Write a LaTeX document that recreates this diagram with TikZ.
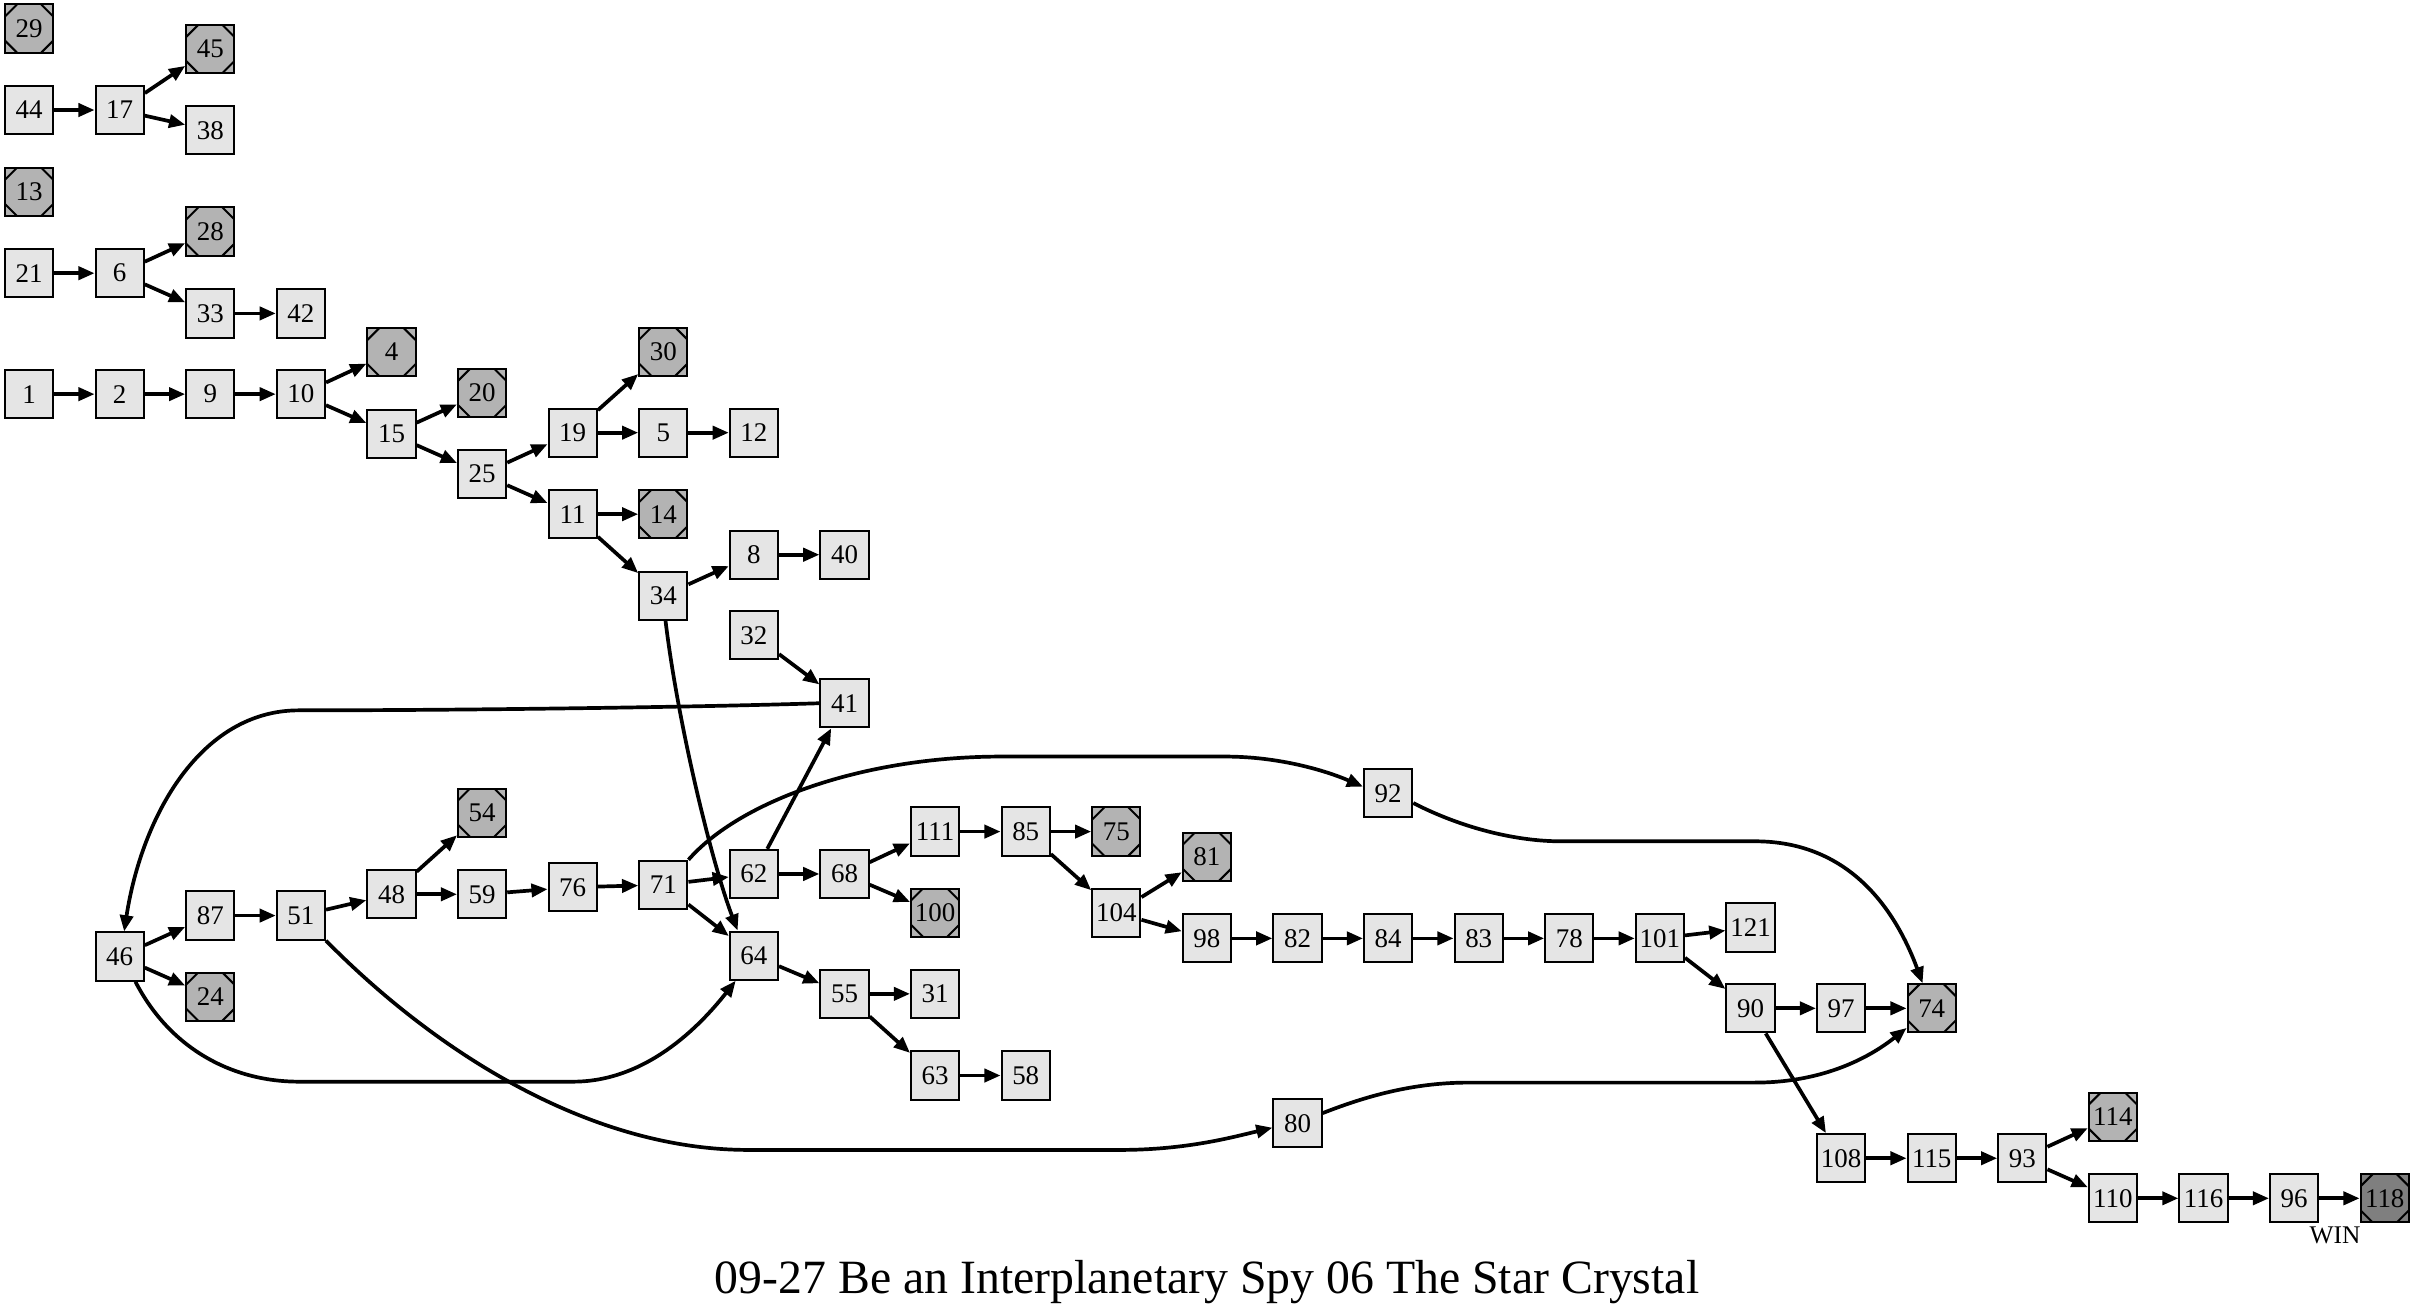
\documentclass[tikz,border=0pt]{standalone}
\usepackage{fontspec}
\setmainfont{Liberation Serif}
\usetikzlibrary{arrows.meta}
\definecolor{lgray}{HTML}{E5E5E5}
\definecolor{ogray}{HTML}{B3B3B3}
\definecolor{dgray}{HTML}{7F7F7F}
\tikzset{
  lbox/.style={draw=black, line width=1.3pt, fill=lgray, minimum size=31.3pt, inner sep=0pt,
    font=\fontsize{17.5}{17.5}\selectfont},
  obox/.style={lbox, fill=ogray, path picture={
    \draw[line width=1.3pt]
      ([xshift=7.8pt]path picture bounding box.north west) -- ([yshift=-7.8pt]path picture bounding box.north west)
      ([xshift=-7.8pt]path picture bounding box.north east) -- ([yshift=-7.8pt]path picture bounding box.north east)
      ([xshift=7.8pt]path picture bounding box.south west) -- ([yshift=7.8pt]path picture bounding box.south west)
      ([xshift=-7.8pt]path picture bounding box.south east) -- ([yshift=7.8pt]path picture bounding box.south east);}},
  wbox/.style={obox, fill=dgray},
  conn/.style={line width=2.4pt, -{Triangle[length=10.5pt,width=8.5pt]}},
}
\begin{document}
\begin{tikzpicture}[x=1pt,y=-1pt]
\useasboundingbox (0,0) rectangle (1568,852.2);
% column 0
\node[obox] (n29) at (18.9,18.5) {29};
\node[lbox] (n44) at (18.9,71.4) {44};
\node[obox] (n13) at (18.9,124.5) {13};
\node[lbox] (n21) at (18.9,177.3) {21};
\node[lbox] (n1) at (18.9,255.8) {1};
% column 1
\node[lbox] (n17) at (77.7,71.4) {17};
\node[lbox] (n6) at (77.7,177.3) {6};
\node[lbox] (n2) at (77.7,255.8) {2};
\node[lbox] (n46) at (77.7,620.8) {46};
% column 2
\node[obox] (n45) at (136.5,31.8) {45};
\node[lbox] (n38) at (136.5,84.6) {38};
\node[obox] (n28) at (136.5,150.3) {28};
\node[lbox] (n33) at (136.5,203.4) {33};
\node[lbox] (n9) at (136.5,255.8) {9};
\node[lbox] (n87) at (136.5,594.2) {87};
\node[obox] (n24) at (136.5,646.8) {24};
% column 3
\node[lbox] (n42) at (195.3,203.4) {42};
\node[lbox] (n10) at (195.3,255.8) {10};
\node[lbox] (n51) at (195.3,594.2) {51};
% column 4
\node[obox] (n4) at (254.1,228.5) {4};
\node[lbox] (n15) at (254.1,281.7) {15};
\node[lbox] (n48) at (254.1,580.4) {48};
% column 5
\node[obox] (n20) at (312.9,255.0) {20};
\node[lbox] (n25) at (312.9,307.7) {25};
\node[obox] (n54) at (312.9,527.4) {54};
\node[lbox] (n59) at (312.9,580.4) {59};
% column 6
\node[lbox] (n19) at (371.7,280.8) {19};
\node[lbox] (n11) at (371.7,333.7) {11};
\node[lbox] (n76) at (371.7,575.8) {76};
% column 7
\node[obox] (n30) at (430.5,228.2) {30};
\node[lbox] (n5) at (430.5,280.8) {5};
\node[obox] (n14) at (430.5,333.7) {14};
\node[lbox] (n34) at (430.5,386.6) {34};
\node[lbox] (n71) at (430.5,574.3) {71};
% column 8
\node[lbox] (n12) at (489.3,280.8) {12};
\node[lbox] (n8) at (489.3,360.0) {8};
\node[lbox] (n32) at (489.3,412.3) {32};
\node[lbox] (n62) at (489.3,567.2) {62};
\node[lbox] (n64) at (489.3,620.2) {64};
% column 9
\node[lbox] (n40) at (548.1,360.0) {40};
\node[lbox] (n41) at (548.1,456.4) {41};
\node[lbox] (n68) at (548.1,567.2) {68};
\node[lbox] (n55) at (548.1,645.0) {55};
% column 10
\node[lbox] (n111) at (606.9,539.7) {111};
\node[obox] (n100) at (606.9,592.3) {100};
\node[lbox] (n31) at (606.9,645.0) {31};
\node[lbox] (n63) at (606.9,698.0) {63};
% column 11
\node[lbox] (n85) at (665.7,539.7) {85};
\node[lbox] (n58) at (665.7,698.0) {58};
% column 12
\node[obox] (n75) at (724.5,539.7) {75};
\node[lbox] (n104) at (724.5,592.3) {104};
% column 13
\node[obox] (n81) at (783.3,556.0) {81};
\node[lbox] (n98) at (783.3,609.0) {98};
% column 14
\node[lbox] (n82) at (842.1,609.0) {82};
\node[lbox] (n80) at (842.1,729.0) {80};
% column 15
\node[lbox] (n92) at (900.9,514.9) {92};
\node[lbox] (n84) at (900.9,609.0) {84};
% columns 16-18
\node[lbox] (n83) at (959.7,609.0) {83};
\node[lbox] (n78) at (1018.5,609.0) {78};
\node[lbox] (n101) at (1077.3,609.0) {101};
% column 19
\node[lbox] (n121) at (1136.1,602.0) {121};
\node[lbox] (n90) at (1136.1,654.4) {90};
% column 20
\node[lbox] (n97) at (1194.9,654.4) {97};
\node[lbox] (n108) at (1194.9,751.7) {108};
% column 21
\node[obox] (n74) at (1253.7,654.4) {74};
\node[lbox] (n115) at (1253.7,751.7) {115};
% column 22
\node[lbox] (n93) at (1312.5,751.7) {93};
% column 23
\node[obox] (n114) at (1371.3,724.7) {114};
\node[lbox] (n110) at (1371.3,777.7) {110};
% columns 24-26
\node[lbox] (n116) at (1430.1,777.7) {116};
\node[lbox] (n96) at (1488.9,777.7) {96};
\node[wbox] (n118) at (1547.7,777.7) {118};
% labels
\node[font=\fontsize{16.5}{16.5}\selectfont, inner sep=0pt] (win) at (1515.4,801.5) {WIN};
\node[font=\fontsize{31}{31}\selectfont, inner sep=0pt, anchor=base] (title) at (783.4,839.3) {09-27 Be an Interplanetary Spy 06 The Star Crystal};
% straight edges
\draw[conn] (n44) -- (n17);
\draw[conn] (n17) -- (n45);
\draw[conn] (n17) -- (n38);
\draw[conn] (n21) -- (n6);
\draw[conn] (n6) -- (n28);
\draw[conn] (n6) -- (n33);
\draw[conn] (n33) -- (n42);
\draw[conn] (n1) -- (n2);
\draw[conn] (n2) -- (n9);
\draw[conn] (n9) -- (n10);
\draw[conn] (n10) -- (n4);
\draw[conn] (n10) -- (n15);
\draw[conn] (n15) -- (n20);
\draw[conn] (n15) -- (n25);
\draw[conn] (n25) -- (n19);
\draw[conn] (n25) -- (n11);
\draw[conn] (n19) -- (n30);
\draw[conn] (n19) -- (n5);
\draw[conn] (n5) -- (n12);
\draw[conn] (n11) -- (n14);
\draw[conn] (n11) -- (n34);
\draw[conn] (n34) -- (n8);
\draw[conn] (n8) -- (n40);
\draw[conn] (n32) -- (n41);
\draw[conn] (n46) -- (n87);
\draw[conn] (n46) -- (n24);
\draw[conn] (n87) -- (n51);
\draw[conn] (n51) -- (n48);
\draw[conn] (n48) -- (n54);
\draw[conn] (n48) -- (n59);
\draw[conn] (n59) -- (n76);
\draw[conn] (n76) -- (n71);
\draw[conn] (n71) -- (n62);
\draw[conn] (n71) -- (n64);
\draw[conn] (n62) -- (n41);
\draw[conn] (n62) -- (n68);
\draw[conn] (n68) -- (n111);
\draw[conn] (n68) -- (n100);
\draw[conn] (n111) -- (n85);
\draw[conn] (n85) -- (n75);
\draw[conn] (n85) -- (n104);
\draw[conn] (n104) -- (n81);
\draw[conn] (n104) -- (n98);
\draw[conn] (n98) -- (n82);
\draw[conn] (n82) -- (n84);
\draw[conn] (n84) -- (n83);
\draw[conn] (n83) -- (n78);
\draw[conn] (n78) -- (n101);
\draw[conn] (n101) -- (n121);
\draw[conn] (n101) -- (n90);
\draw[conn] (n90) -- (n97);
\draw[conn] (n97) -- (n74);
\draw[conn] (n90) -- (n108);
\draw[conn] (n64) -- (n55);
\draw[conn] (n55) -- (n31);
\draw[conn] (n55) -- (n63);
\draw[conn] (n63) -- (n58);
\draw[conn] (n108) -- (n115);
\draw[conn] (n115) -- (n93);
\draw[conn] (n93) -- (n114);
\draw[conn] (n93) -- (n110);
\draw[conn] (n110) -- (n116);
\draw[conn] (n116) -- (n96);
\draw[conn] (n96) -- (n118);
% curved edges
\draw[conn] (n34.-85) .. controls (440,470) and (462,560) .. (n64.123);
\draw[conn] (n41.west) .. controls (450,459) and (300,461) .. (194,461)
  .. controls (130,461) and (92,530) .. (n46.80);
\draw[conn] (n46.-58) .. controls (110,680) and (150,702) .. (194,702) -- (372,702)
  .. controls (420,702) and (455,665) .. (n64.-126);
\draw[conn] (n51.-45) .. controls (280,680) and (380,746) .. (485,746.3) -- (727,746.3)
  .. controls (770,746.3) and (800,738) .. (n80.190);
\draw[conn] (n71.45) .. controls (480,520) and (560,491) .. (650,491) -- (795,491)
  .. controls (830,491) and (860,500) .. (n92.165);
\draw[conn] (n92.-21) .. controls (950,538) and (985,546) .. (1013,546) -- (1139,546)
  .. controls (1200,546) and (1230,590) .. (n74.110);
\draw[conn] (n80.22) .. controls (890,710) and (920,702.6) .. (953,702.6) -- (1139,702.6)
  .. controls (1185,702.6) and (1215,685) .. (n74.-142);
\end{tikzpicture}
\end{document}
